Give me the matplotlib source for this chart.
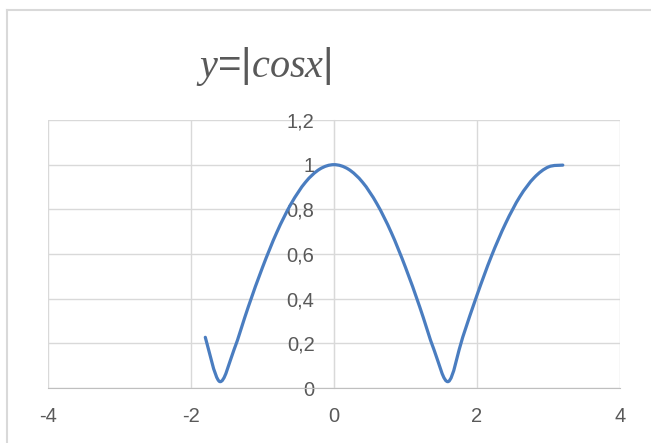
import matplotlib
matplotlib.use("Agg")
import matplotlib.pyplot as plt
from matplotlib.path import Path
from matplotlib.patches import PathPatch
from matplotlib.ticker import FuncFormatter

# values (step 0.2)
x_vals = [-1.8, -1.6, -1.4, -1.2, -1.0, -0.8, -0.6, -0.4, -0.2, 0.0,
          0.2, 0.4, 0.6, 0.8, 1.0, 1.2, 1.4, 1.6, 1.8, 2.0,
          2.2, 2.4, 2.6, 2.8, 3.0, 3.2]
y_vals = [0.227, 0.029, 0.170, 0.362, 0.540, 0.697, 0.825, 0.921, 0.980, 1.000,
          0.980, 0.921, 0.825, 0.697, 0.540, 0.362, 0.170, 0.029, 0.227, 0.416,
          0.589, 0.737, 0.857, 0.942, 0.990, 0.998]
x_ticks = [-4, -2, 0, 2, 4]
y_ticks = [0, 0.2, 0.4, 0.6, 0.8, 1.0, 1.2]
title = r'$y$=|$cosx$|'

plt.rcParams['font.family'] = ['Liberation Sans', 'DejaVu Sans']
plt.rcParams['mathtext.fontset'] = 'custom'
plt.rcParams['mathtext.it'] = 'Liberation Serif:italic'
plt.rcParams['mathtext.rm'] = 'Liberation Serif'

W, H = 651, 443
fig = plt.figure(figsize=(W / 100, H / 100), dpi=100)
fig.patch.set_facecolor('white')

# chart border (only top and left visible in the crop)
fig.add_artist(plt.Line2D([7 / W, 7 / W], [0, 1 - 10 / H], transform=fig.transFigure,
                          color='#d9d9d9', lw=1.5))
fig.add_artist(plt.Line2D([7 / W, 1], [1 - 10 / H, 1 - 10 / H], transform=fig.transFigure,
                          color='#d9d9d9', lw=1.5))

ax = fig.add_axes([48 / W, 1 - 388 / H, (620 - 48) / W, (388 - 120) / H])

# smoothed line like Excel: cubic bezier segments through the data points
n = len(x_vals)
verts = [(x_vals[0], y_vals[0])]
codes = [Path.MOVETO]
for i in range(n - 1):
    i0 = max(i - 1, 0)
    i3 = min(i + 2, n - 1)
    c1 = (x_vals[i] + (x_vals[i + 1] - x_vals[i0]) / 6,
          y_vals[i] + (y_vals[i + 1] - y_vals[i0]) / 6)
    c2 = (x_vals[i + 1] - (x_vals[i3] - x_vals[i]) / 6,
          y_vals[i + 1] - (y_vals[i3] - y_vals[i]) / 6)
    verts += [c1, c2, (x_vals[i + 1], y_vals[i + 1])]
    codes += [Path.CURVE4] * 3
ax.add_patch(PathPatch(Path(verts, codes), facecolor='none', edgecolor='#4a7dc0',
                       lw=2.3, capstyle='round', joinstyle='round', zorder=3))

ax.set_xlim(-4, 4)
ax.set_ylim(0, 1.2)
ax.set_xticks(x_ticks)
ax.set_yticks(y_ticks)
ax.grid(True, color='#d9d9d9', lw=1)
ax.set_axisbelow(True)

for s in ['top', 'right']:
    ax.spines[s].set_visible(False)
ax.spines['left'].set_position(('data', 0))
ax.spines['left'].set_color('#d9d9d9')
ax.spines['bottom'].set_color('#bfbfbf')

fmt = lambda v, p: ('%g' % round(v, 1)).replace('.', ',')
ax.yaxis.set_major_formatter(FuncFormatter(fmt))
ax.xaxis.set_major_formatter(FuncFormatter(fmt))
ax.tick_params(axis='both', length=0, labelsize=14.5, labelcolor='#595959')
ax.tick_params(axis='y', pad=14)
ax.tick_params(axis='x', pad=14)

fig.text(264 / W, 1 - 66 / H, title, ha='center', va='center',
         fontsize=29, color='#595959')

plt.savefig('out.png', dpi=100)
